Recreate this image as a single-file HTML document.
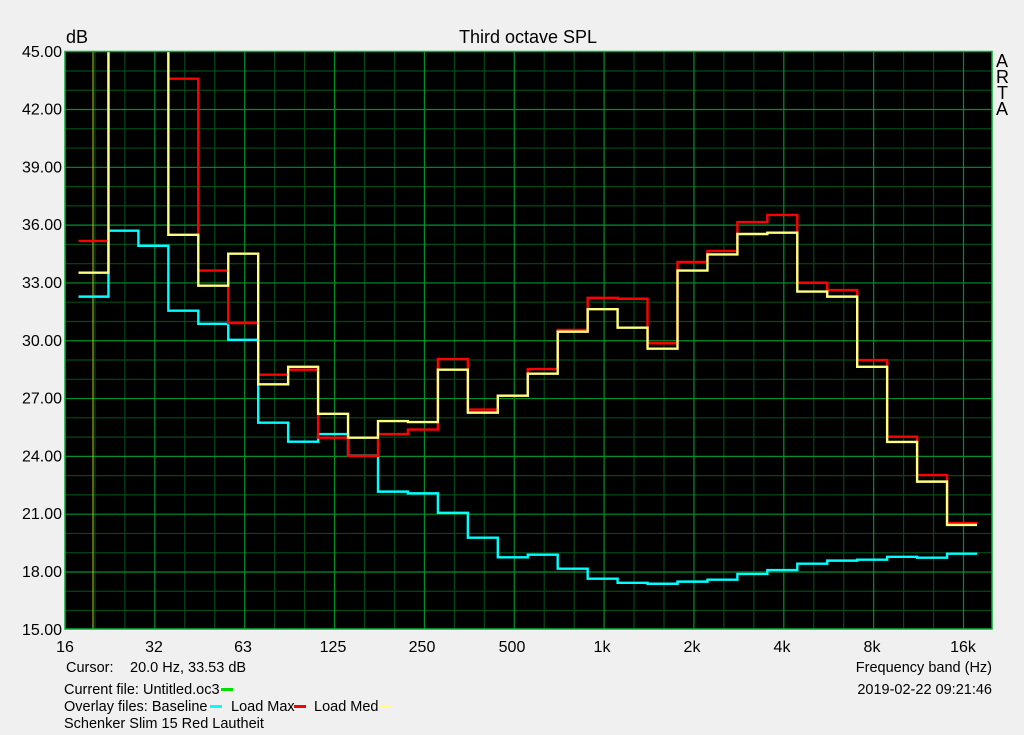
<!DOCTYPE html>
<html><head><meta charset="utf-8"><style>
body{margin:0;background:#f0f0f0;}
svg{display:block;font-family:"Liberation Sans",sans-serif;}
</style></head><body>
<svg width="1024" height="735" viewBox="0 0 1024 735">
<rect x="0" y="0" width="1024" height="735" fill="#f0f0f0"/>
<rect x="65" y="52" width="927" height="577" fill="#000"/>
<path fill="none" stroke="#004a18" stroke-width="1.2" d="M94.95 52V629M124.9 52V629M184.8 52V629M214.75 52V629M274.65 52V629M304.6 52V629M364.5 52V629M394.45 52V629M454.35 52V629M484.3 52V629M544.2 52V629M574.15 52V629M634.05 52V629M664 52V629M723.9 52V629M753.85 52V629M813.75 52V629M843.7 52V629M903.6 52V629M933.55 52V629
M65 610.53H992M65 591.26H992M65 552.72H992M65 533.45H992M65 494.91H992M65 475.64H992M65 437.1H992M65 417.83H992M65 379.29H992M65 360.02H992M65 321.48H992M65 302.21H992M65 263.67H992M65 244.4H992M65 205.86H992M65 186.59H992M65 148.05H992M65 128.78H992M65 90.24H992M65 70.97H992"/>
<path fill="none" stroke="#00902a" stroke-width="1.2" d="M154.85 52V629M244.7 52V629M334.55 52V629M424.4 52V629M514.25 52V629M604.1 52V629M693.95 52V629M783.8 52V629M873.65 52V629M963.5 52V629
M65 571.99H992M65 514.18H992M65 456.37H992M65 398.56H992M65 340.75H992M65 282.94H992M65 225.13H992M65 167.32H992M65 109.51H992"/>
<line x1="93" y1="52" x2="93" y2="629" stroke="#c0c020" stroke-width="1"/>
<g transform="matrix(29.95 0 0 -19.27 78.5 918.85)" fill="none">
<polyline vector-effect="non-scaling-stroke" stroke="#00ffff" stroke-width="2.4" points="0,32.29 1,32.29 1,35.71 2,35.71 2,34.93 3,34.93 3,31.56 4,31.56 4,30.88 5,30.88 5,30.05 6,30.05 6,25.75 7,25.75 7,24.76 8,24.76 8,25.16 9,25.16 9,24.04 10,24.04 10,22.17 11,22.17 11,22.08 12,22.08 12,21.07 13,21.07 13,19.78 14,19.78 14,18.76 15,18.76 15,18.9 16,18.9 16,18.17 17,18.17 17,17.65 18,17.65 18,17.44 19,17.44 19,17.39 20,17.39 20,17.5 21,17.5 21,17.6 22,17.6 22,17.9 23,17.9 23,18.1 24,18.1 24,18.43 25,18.43 25,18.59 26,18.59 26,18.64 27,18.64 27,18.79 28,18.79 28,18.74 29,18.74 29,18.95 30,18.95"/>
<polyline vector-effect="non-scaling-stroke" stroke="#ff0000" stroke-width="2.4" points="0,35.18 1,35.18 1,47 3,47 3,43.6 4,43.6 4,33.64 5,33.64 5,30.92 6,30.92 6,28.24 7,28.24 7,28.5 8,28.5 8,24.97 9,24.97 9,24.03 10,24.03 10,25.16 11,25.16 11,25.39 12,25.39 12,29.05 13,29.05 13,26.43 14,26.43 14,27.15 15,27.15 15,28.53 16,28.53 16,30.56 17,30.56 17,32.23 18,32.23 18,32.18 19,32.18 19,29.87 20,29.87 20,34.09 21,34.09 21,34.66 22,34.66 22,36.16 23,36.16 23,36.53 24,36.53 24,33.01 25,33.01 25,32.63 26,32.63 26,29.0 27,29.0 27,25.02 28,25.02 28,23.03 29,23.03 29,20.54 30,20.54"/>
<polyline vector-effect="non-scaling-stroke" stroke="#ffff80" stroke-width="2.4" points="0,33.53 1,33.53 1,47 3,47 3,35.5 4,35.5 4,32.86 5,32.86 5,34.52 6,34.52 6,27.74 7,27.74 7,28.65 8,28.65 8,26.21 9,26.21 9,24.97 10,24.97 10,25.83 11,25.83 11,25.78 12,25.78 12,28.5 13,28.5 13,26.27 14,26.27 14,27.15 15,27.15 15,28.29 16,28.29 16,30.47 17,30.47 17,31.64 18,31.64 18,30.68 19,30.68 19,29.59 20,29.59 20,33.64 21,33.64 21,34.48 22,34.48 22,35.54 23,35.54 23,35.61 24,35.61 24,32.55 25,32.55 25,32.29 26,32.29 26,28.65 27,28.65 27,24.75 28,24.75 28,22.69 29,22.69 29,20.44 30,20.44"/>
</g>
<rect x="0" y="0" width="1024" height="51" fill="#f0f0f0"/>
<rect x="65" y="51.5" width="927" height="577.5" fill="none" stroke="#00b030" stroke-width="1.5"/>
<g font-size="18" fill="#000">
<text x="66" y="43">dB</text>
<text x="528" y="43" text-anchor="middle">Third octave SPL</text>
<text x="996" y="67">A</text><text x="996" y="83">R</text><text x="997" y="99">T</text><text x="996" y="115">A</text>
</g>
<g font-size="16" fill="#000" text-anchor="end">
<text x="62" y="635">15.00</text><text x="62" y="577">18.00</text><text x="62" y="519">21.00</text><text x="62" y="461.5">24.00</text><text x="62" y="403.6">27.00</text><text x="62" y="345.8">30.00</text><text x="62" y="288">33.00</text><text x="62" y="230.1">36.00</text><text x="62" y="172.3">39.00</text><text x="62" y="114.5">42.00</text><text x="62" y="57">45.00</text>
</g>
<g font-size="16" fill="#000" text-anchor="middle">
<text x="65" y="652">16</text><text x="154" y="652">32</text><text x="243" y="652">63</text><text x="333" y="652">125</text><text x="422" y="652">250</text><text x="512" y="652">500</text><text x="602" y="652">1k</text><text x="692" y="652">2k</text><text x="782" y="652">4k</text><text x="872" y="652">8k</text><text x="963" y="652">16k</text>
</g>
<g font-size="14.5" fill="#000">
<text x="66" y="672">Cursor:</text><text x="130" y="672">20.0 Hz, 33.53 dB</text>
<text x="64" y="694">Current file: Untitled.oc3</text>
<rect x="221" y="688" width="12" height="3" fill="#00e000"/>
<text x="64" y="711">Overlay files: Baseline</text>
<rect x="210" y="705" width="12" height="3" fill="#00ffff"/>
<text x="231" y="711">Load Max</text>
<rect x="294" y="705" width="12" height="3" fill="#ff0000"/>
<text x="314" y="711">Load Med</text>
<rect x="380" y="705" width="12" height="3" fill="#ffff80"/>
<text x="64" y="728">Schenker Slim 15 Red Lautheit</text>
<text x="992" y="672" text-anchor="end">Frequency band (Hz)</text>
<text x="992" y="694" text-anchor="end">2019-02-22  09:21:46</text>
</g>
</svg>
</body></html>
